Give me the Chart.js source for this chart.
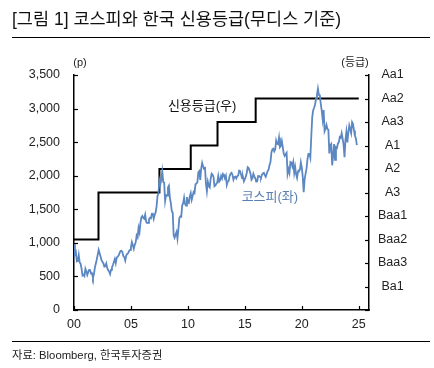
<!DOCTYPE html>
<html><head><meta charset="utf-8">
<script src="https://cdn.jsdelivr.net/npm/chart.js@4"></script>
<style>
html,body{margin:0;padding:0;background:#fff;}
#wrap{position:relative;width:434px;height:368px;overflow:hidden;font-family:Arial,'Liberation Sans','Noto Sans CJK KR',sans-serif;}
#title{position:absolute;left:12px;top:5px;font-size:17.5px;color:#111;white-space:nowrap;}
.rule{position:absolute;left:12px;width:418px;height:0;border-top:1.5px solid #000;}
#src{position:absolute;left:12px;top:346px;font-size:11.3px;color:#222;white-space:nowrap;}
canvas{position:absolute;left:0;top:0;}
</style></head>
<body><div id="wrap">
<canvas id="c" width="434" height="368"></canvas>
<div id="title">[그림 1] 코스피와 한국 신용등급(무디스 기준)</div>
<div class="rule" style="top:37px"></div>
<div class="rule" style="top:341px"></div>
<div id="src">자료: Bloomberg, 한국투자증권</div>
</div>
<script>
// ---- data ----
const startYear = 2000;
// KOSPI monthly (p), Jan 2000 ... Nov 2024
const kospi = [
 980, 828, 861, 725, 732, 821, 706, 689, 613, 514, 526, 505,      // 2000
 615, 578, 523, 563, 596, 595, 541, 545, 479, 535, 633, 693,      // 2001
 752, 824, 895, 845, 796, 742, 717, 693, 646, 653, 693, 627,      // 2002
 592, 575, 535, 599, 634, 670, 715, 759, 697, 779, 796, 810,      // 2003
 848, 880, 883, 862, 803, 785, 735, 810, 835, 845, 878, 896,      // 2004
 932, 1011, 965, 912, 970, 1008, 1111, 1083, 1221, 1159, 1297, 1379, // 2005
 1399, 1371, 1359, 1419, 1317, 1295, 1297, 1352, 1371, 1364, 1433, 1434, // 2006
 1360, 1417, 1453, 1543, 1700, 1744, 1933, 1874, 1946, 2064, 1906, 1897, // 2007
 1624, 1711, 1704, 1825, 1852, 1674, 1594, 1474, 1448, 1113, 1076, 1124, // 2008
 1162, 1063, 1206, 1369, 1395, 1390, 1557, 1591, 1673, 1580, 1555, 1682, // 2009
 1602, 1594, 1692, 1741, 1641, 1698, 1759, 1742, 1872, 1883, 1904, 2051, // 2010
 2069, 1939, 2106, 2192, 2142, 2100, 2133, 1880, 1769, 1909, 1847, 1826, // 2011
 1955, 2030, 2014, 1981, 1843, 1854, 1881, 1905, 1996, 1912, 1933, 1997, // 2012
 1961, 2026, 2005, 1963, 2001, 1863, 1914, 1926, 1997, 2030, 2044, 2011, // 2013
 1941, 1980, 1986, 1961, 1995, 2002, 2076, 2068, 2020, 1964, 1981, 1916, // 2014
 1949, 1986, 2041, 2127, 2115, 2074, 2030, 1941, 1963, 2029, 1991, 1961, // 2015
 1912, 1917, 1996, 1994, 1983, 1970, 2016, 2034, 2043, 2008, 1983, 2026, // 2016
 2068, 2091, 2160, 2205, 2347, 2392, 2402, 2363, 2394, 2523, 2476, 2467, // 2017
 2566, 2427, 2446, 2515, 2423, 2326, 2295, 2322, 2343, 2029, 2096, 2041, // 2018
 2204, 2195, 2140, 2203, 2041, 2130, 2024, 1967, 2063, 2083, 2087, 2197, // 2019
 2119, 1987, 1754, 1947, 2030, 2108, 2249, 2326, 2327, 2267, 2591, 2873, // 2020
 2976, 3013, 3061, 3147, 3203, 3296, 3202, 3199, 3068, 2970, 2839, 2977, // 2021
 2663, 2699, 2757, 2695, 2685, 2332, 2451, 2472, 2155, 2293, 2472, 2236, // 2022
 2425, 2412, 2477, 2501, 2577, 2564, 2632, 2556, 2465, 2277, 2535, 2655, // 2023
 2497, 2642, 2747, 2692, 2636, 2798, 2770, 2674, 2593, 2556, 2456        // 2024
];
// Moody's rating changes (year, rating)
const ratingDates  = [2000, 2002.15, 2007.5, 2010.25, 2012.6, 2015.95, 2025];
const ratingValues = ['Baa2', 'A3', 'A2', 'A1', 'Aa3', 'Aa2', 'Aa2'];
// right-axis tick labels, bottom to top
const ratingScale = ['', 'Ba1', 'Baa3', 'Baa2', 'Baa1', 'A3', 'A2', 'A1', 'Aa3', 'Aa2', 'Aa1'];
const leftTicks = { min: 0, max: 3500, step: 500 };
const xTicks = { min: 2000, max: 2025.9, step: 5 };
const seriesLabels = { kospi: '코스피(좌)', rating: '신용등급(우)' };

// ---- build ----
const kospiPts = kospi.map((v, i) => ({ x: startYear + i / 12, y: v }));
const ratingPts = ratingDates.map((d, i) => ({ x: d, y: ratingScale.indexOf(ratingValues[i]) }));

const FONT = "Arial, 'Liberation Sans', 'Noto Sans CJK KR', sans-serif";
const tickFont = { family: FONT, size: 12.5 };

const decor = {
  id: 'decor',
  afterDraw(chart) {
    const { ctx, chartArea: a, scales } = chart;
    ctx.save();
    ctx.strokeStyle = '#000'; ctx.lineWidth = 1.2;
    const L = 4;
    scales.y.ticks.forEach(t => { const p = Math.round(scales.y.getPixelForValue(t.value)) + 0.5; ctx.beginPath(); ctx.moveTo(a.left, p); ctx.lineTo(a.left + L, p); ctx.stroke(); });
    scales.y2.ticks.forEach(t => { const p = Math.round(scales.y2.getPixelForValue(t.value)) + 0.5; ctx.beginPath(); ctx.moveTo(a.right, p); ctx.lineTo(a.right - L, p); ctx.stroke(); });
    scales.x.ticks.forEach(t => { const p = Math.round(scales.x.getPixelForValue(t.value)) + 0.5; ctx.beginPath(); ctx.moveTo(p, a.bottom); ctx.lineTo(p, a.bottom - L); ctx.stroke(); });
    ctx.textAlign = 'center'; ctx.textBaseline = 'middle';
    ctx.fillStyle = '#222';
    ctx.font = "11px " + FONT;
    ctx.fillText('(p)', a.left + 6, a.top - 12);
    ctx.fillText('(등급)', a.right - 14, a.top - 12);
    ctx.font = "13px " + FONT;
    ctx.fillStyle = '#111';
    ctx.fillText(seriesLabels.rating, scales.x.getPixelForValue(2011.25), scales.y.getPixelForValue(3030));
    ctx.fillStyle = '#5a7fb0';
    ctx.fillText(seriesLabels.kospi, scales.x.getPixelForValue(2017.2), scales.y.getPixelForValue(1683));
    ctx.restore();
  }
};

new Chart(document.getElementById('c'), {
  type: 'line',
  data: {
    datasets: [
      { label: seriesLabels.kospi, data: kospiPts, yAxisID: 'y', borderColor: '#5b87c2', borderWidth: 1.8, pointRadius: 0, tension: 0, fill: false },
      { label: seriesLabels.rating, data: ratingPts, yAxisID: 'y2', borderColor: '#000', borderWidth: 2, pointRadius: 0, stepped: 'before', fill: false }
    ]
  },
  options: {
    responsive: false, animation: false, devicePixelRatio: 1,
    layout: { padding: { left: 0, right: 0, top: 75, bottom: 0 } },
    plugins: { legend: { display: false }, tooltip: { enabled: false } },
    scales: {
      x: {
        type: 'linear', min: xTicks.min, max: xTicks.max,
        grid: { display: false, drawTicks: false },
        border: { display: true, color: '#000', width: 1.5 },
        ticks: { stepSize: xTicks.step, includeBounds: false, padding: 7, color: '#222', font: tickFont,
          callback: v => String(v % 100).padStart(2, '0') },
        afterFit: s => { s.height = 58; }
      },
      y: {
        position: 'left', min: leftTicks.min, max: leftTicks.max,
        grid: { display: false, drawTicks: false },
        border: { display: true, color: '#000', width: 1.5 },
        ticks: { stepSize: leftTicks.step, padding: 14, color: '#222', font: tickFont,
          callback: v => v.toLocaleString('en-US') },
        afterFit: s => { s.width = 74; }
      },
      y2: {
        position: 'right', min: 0, max: ratingScale.length - 1,
        grid: { display: false, drawTicks: false },
        border: { display: true, color: '#000', width: 1.5 },
        ticks: { stepSize: 1, padding: 9, crossAlign: 'center', color: '#222', font: tickFont,
          callback: v => ratingScale[v] },
        afterFit: s => { s.width = 65; }
      }
    }
  },
  plugins: [decor]
});
</script>
</body></html>
